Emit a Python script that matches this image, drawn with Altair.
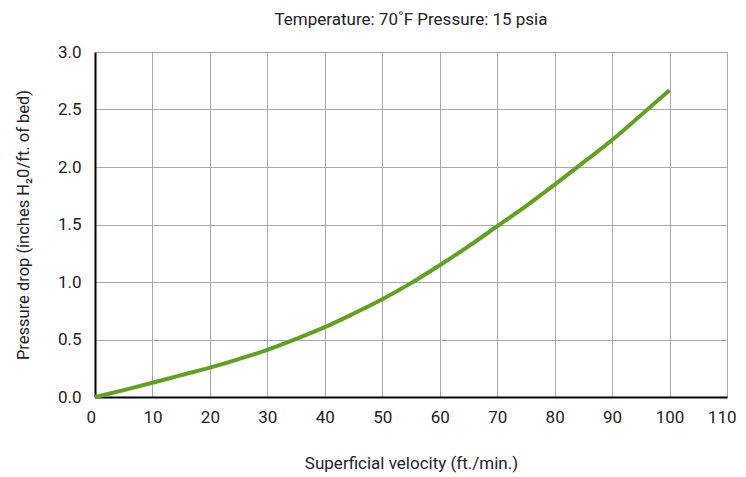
import altair as alt
import pandas as pd

velocity = [0, 5, 10, 15, 20, 25, 30, 35, 40, 45, 50, 55, 60, 65, 70, 75, 80, 85, 90, 95, 100]
pressure = [0.0, 0.06, 0.124, 0.19, 0.255, 0.33, 0.41, 0.505, 0.607, 0.725, 0.85, 0.99, 1.146, 1.31, 1.485, 1.66, 1.847, 2.04, 2.235, 2.45, 2.667]

x_ticks = list(range(0, 111, 10))
y_ticks = [0.0, 0.5, 1.0, 1.5, 2.0, 2.5, 3.0]

df = pd.DataFrame({"v": velocity, "p": pressure})

FONT = "Roboto, sans-serif"

chart = alt.Chart(df).mark_line(color="#62a024", strokeWidth=4, strokeCap="butt",
                                interpolate="monotone").encode(
    x=alt.X("v:Q", scale=alt.Scale(domain=[0, 110], nice=False),
            axis=alt.Axis(values=x_ticks, title="Superficial velocity (ft./min.)", format="d",
                          ticks=False, labelPadding=12, titlePadding=30,
                          labelFlush=True, labelFlushOffset=9,
                          domainColor="#000", domainWidth=2, gridColor="#a8a8a8",
                          labelFontSize=17, titleFontSize=17, labelColor="#222", titleColor="#222",
                          labelFont=FONT, titleFont=FONT, titleFontWeight="normal")),
    y=alt.Y("p:Q", scale=alt.Scale(domain=[0, 3], nice=False),
            axis=alt.Axis(values=y_ticks, title="Pressure drop (inches H₂0/ft. of bed)", format=".1f",
                          ticks=False, labelPadding=14, titlePadding=26, labelFlush=False,
                          domainColor="#000", domainWidth=2, gridColor="#a8a8a8",
                          labelFontSize=17, titleFontSize=16.5, labelColor="#222", titleColor="#222",
                          labelFont=FONT, titleFont=FONT, titleFontWeight="normal")),
).properties(
    width=632, height=345,
    title=alt.TitleParams("Temperature: 70˚F Pressure: 15 psia", fontSize=17, font=FONT,
                          fontWeight="normal", color="#222", offset=14),
    autosize=alt.AutoSizeParams(type="none"),
    padding={"left": 87, "top": 44, "right": 11, "bottom": 80},
).configure_view(stroke="#a8a8a8", strokeWidth=1)

chart.save("out.html", embed_options={"renderer": "svg", "actions": False})
